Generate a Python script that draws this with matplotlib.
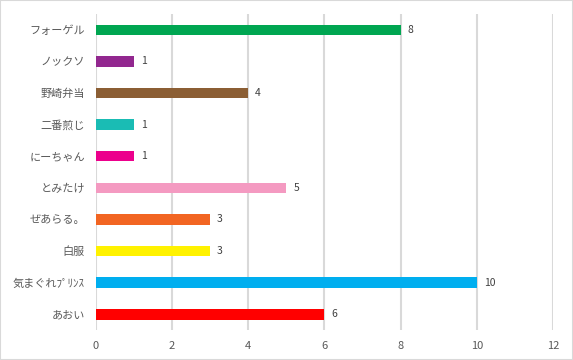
import matplotlib
matplotlib.use('Agg')
import matplotlib.pyplot as plt
from matplotlib.patches import Rectangle

plt.rcParams['font.family'] = ['Noto Sans CJK JP', 'DejaVu Sans']

# データ (上から順)
names = ['フォーゲル', 'ノックソ', '野崎弁当', '二番煎じ', 'にーちゃん',
         'とみたけ', 'ぜあらる。', '白服', '気まぐれﾌﾟﾘﾝｽ', 'あおい']
values = [8, 1, 4, 1, 1, 5, 3, 3, 10, 6]
colors = ['#00a651', '#92278f', '#8b5e34', '#1abcb4', '#ec008c',
          '#f49ac1', '#f26522', '#fff200', '#00aeef', '#ff0000']
xticks = [0, 2, 4, 6, 8, 10, 12]

fig = plt.figure(figsize=(5.73, 3.6), dpi=100)
ax = fig.add_axes([0.1675, 0.083, 0.7975, 0.878])

y = list(range(len(names)))[::-1]
ax.barh(y, values, height=0.33, color=colors, zorder=3)
for yi, v in zip(y, values):
    ax.text(v + 0.18, yi, str(v), va='center', ha='left', fontsize=7.5, color='#404040')

ax.set_xlim(0, 12)
ax.set_ylim(-0.5, len(names) - 0.5)
ax.set_xticks(xticks)
ax.set_yticks(y)
ax.set_yticklabels(names)
ax.tick_params(axis='both', length=0, labelsize=8, colors='#595959')
ax.tick_params(axis='x', pad=8)
ax.tick_params(axis='y', pad=8)
ax.grid(axis='x', color='#d9d9d9', linewidth=1.5, zorder=0)
for s in ax.spines.values():
    s.set_visible(False)

fig.patches.append(Rectangle((0, 0), 1, 1, transform=fig.transFigure,
                             fill=False, edgecolor='#d9d9d9', linewidth=1.5))

fig.savefig('out.png', dpi=100)
